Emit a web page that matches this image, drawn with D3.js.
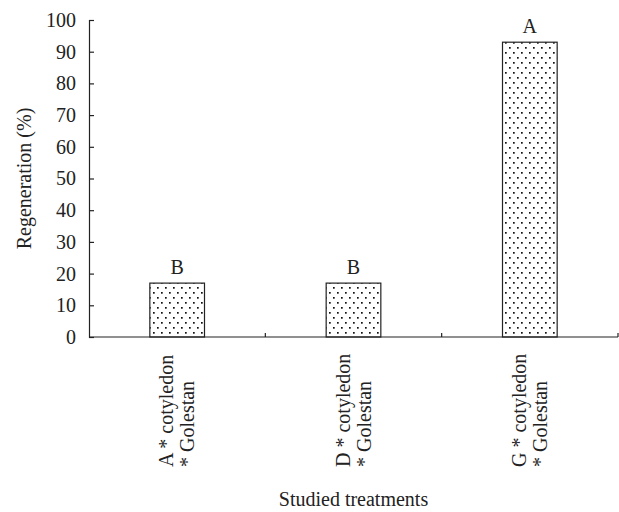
<!DOCTYPE html>
<html>
<head>
<meta charset="utf-8">
<script src="https://cdn.jsdelivr.net/npm/d3@7"></script>
<style>
  body { margin: 0; background: #fff; }
  svg { display: block; }
</style>
</head>
<body>
<svg id="chart" width="619" height="512"></svg>
<script>
// Chart data
const treatments = ["A", "D", "G"];
const labelLine1 = ["A * cotyledon", "D * cotyledon", "G * cotyledon"];
const labelLine2 = ["* Golestan", "* Golestan", "* Golestan"];
const regeneration = [17, 17, 93];
const letters = ["B", "B", "A"];
const yTicks = [0, 10, 20, 30, 40, 50, 60, 70, 80, 90, 100];

const font = "'Liberation Serif', 'DejaVu Serif', serif";
const fontSize = 20;
const margin = { top: 20, right: 1, bottom: 175, left: 89 };
const width = 619;
const height = 512;

const svg = d3.select("#chart");

// Dotted fill for the bars
const defs = svg.append("defs");
const pattern = defs.append("pattern")
  .attr("id", "dots")
  .attr("patternUnits", "userSpaceOnUse")
  .attr("width", 8)
  .attr("height", 10);
pattern.append("rect")
  .attr("width", 8).attr("height", 10).attr("fill", "#fff");
pattern.append("rect")
  .attr("x", 1).attr("y", 2).attr("width", 1.7).attr("height", 1.7).attr("fill", "#111");
pattern.append("rect")
  .attr("x", 5).attr("y", 7).attr("width", 1.7).attr("height", 1.7).attr("fill", "#111");

const x = d3.scaleBand()
  .domain(treatments)
  .range([margin.left, width - margin.right])
  .paddingInner(0.69)
  .paddingOuter(0.345);

const y = d3.scaleLinear()
  .domain([0, 100])
  .range([height - margin.bottom, margin.top]);

// Bars
svg.selectAll("rect.bar")
  .data(treatments)
  .enter()
  .append("rect")
  .attr("class", "bar")
  .attr("x", d => x(d))
  .attr("y", (d, i) => y(regeneration[i]))
  .attr("width", x.bandwidth())
  .attr("height", (d, i) => y(0) - y(regeneration[i]))
  .attr("fill", "url(#dots)")
  .attr("stroke", "#222")
  .attr("stroke-width", 1.2);

// Significance letters
svg.selectAll("text.letter")
  .data(treatments)
  .enter()
  .append("text")
  .attr("class", "letter")
  .attr("x", d => x(d) + x.bandwidth() / 2)
  .attr("y", (d, i) => y(regeneration[i]) - 9)
  .attr("text-anchor", "middle")
  .attr("font-family", font)
  .attr("font-size", fontSize)
  .attr("fill", "#222")
  .text((d, i) => letters[i]);

// Y axis
const yAxis = svg.append("g")
  .attr("transform", `translate(${margin.left},0)`)
  .call(d3.axisLeft(y).tickValues(yTicks).tickSize(-5).tickPadding(13));
yAxis.select(".domain").attr("stroke", "#222").attr("stroke-width", 1.2);
yAxis.selectAll(".tick line").attr("stroke", "#222").attr("stroke-width", 1.2);
yAxis.selectAll(".tick text")
  .attr("font-family", font)
  .attr("font-size", fontSize)
  .attr("fill", "#222");

// X axis: a line with boundary ticks between categories
const xBase = y(0);
const step = x.step();
const boundaries = d3.range(treatments.length + 1).map(i => margin.left + i * step);
svg.append("line")
  .attr("x1", margin.left).attr("x2", width - margin.right)
  .attr("y1", xBase).attr("y2", xBase)
  .attr("stroke", "#222").attr("stroke-width", 1.2);
svg.selectAll("line.xtick")
  .data(boundaries.slice(1))
  .enter()
  .append("line")
  .attr("class", "xtick")
  .attr("x1", d => d).attr("x2", d => d)
  .attr("y1", xBase).attr("y2", xBase - 4)
  .attr("stroke", "#222").attr("stroke-width", 1.2);

// Rotated category labels
const catLabels = svg.selectAll("g.cat")
  .data(treatments)
  .enter()
  .append("g")
  .attr("class", "cat")
  .attr("transform", d => `translate(${x(d) + x.bandwidth() / 2},467) rotate(-90)`);
catLabels.append("text")
  .attr("x", 0).attr("y", -4)
  .attr("font-family", font).attr("font-size", fontSize).attr("fill", "#222")
  .text((d, i) => labelLine1[i]);
catLabels.append("text")
  .attr("x", 0).attr("y", 17)
  .attr("font-family", font).attr("font-size", fontSize).attr("fill", "#222")
  .text((d, i) => labelLine2[i]);

// Axis titles
svg.append("text")
  .attr("transform", `translate(31,${(margin.top + xBase) / 2}) rotate(-90)`)
  .attr("text-anchor", "middle")
  .attr("font-family", font).attr("font-size", fontSize).attr("fill", "#222")
  .text("Regeneration (%)");

svg.append("text")
  .attr("x", (margin.left + width - margin.right) / 2)
  .attr("y", 506)
  .attr("text-anchor", "middle")
  .attr("font-family", font).attr("font-size", fontSize).attr("fill", "#222")
  .text("Studied treatments");
</script>
</body>
</html>
